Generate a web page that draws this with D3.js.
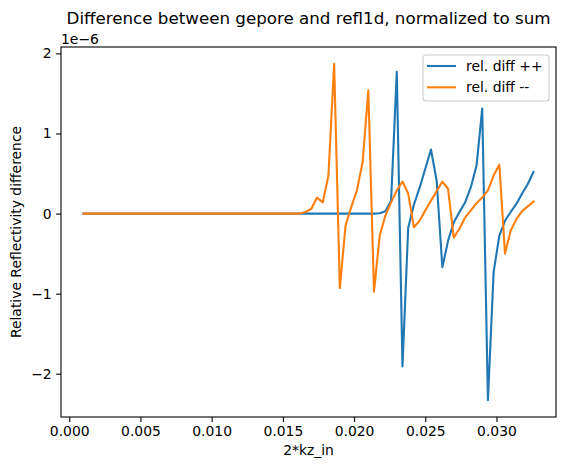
<!DOCTYPE html>
<html>
<head>
<meta charset="utf-8">
<script src="https://cdn.jsdelivr.net/npm/d3@7"></script>
<style>
  body { margin: 0; background: #fff; }
  svg text { font-family: "DejaVu Sans", sans-serif; fill: #000; }
</style>
</head>
<body>
<svg id="chart" width="565" height="470"></svg>
<script>
// kz waarden (2*kz_in)
var kz = [0.0010, 0.0014, 0.0018, 0.0022, 0.0026, 0.0030, 0.0034, 0.0038, 0.0042, 0.0046,
          0.0050, 0.0054, 0.0058, 0.0062, 0.0066, 0.0070, 0.0074, 0.0078, 0.0082, 0.0086,
          0.0090, 0.0094, 0.0098, 0.0102, 0.0106, 0.0110, 0.0114, 0.0118, 0.0122, 0.0126,
          0.0130, 0.0134, 0.0138, 0.0142, 0.0146, 0.0150, 0.0154, 0.0158, 0.0162, 0.0166,
          0.0170, 0.0174, 0.0178, 0.0182, 0.0186, 0.0190, 0.0194, 0.0198, 0.0202, 0.0206,
          0.0210, 0.0214, 0.0218, 0.0222, 0.0226, 0.0230, 0.0234, 0.0238, 0.0242, 0.0246,
          0.0250, 0.0254, 0.0258, 0.0262, 0.0266, 0.0270, 0.0274, 0.0278, 0.0282, 0.0286,
          0.0290, 0.0294, 0.0298, 0.0302, 0.0306, 0.0310, 0.0314, 0.0318, 0.0322, 0.0326];

// relatief verschil, in eenheden van 1e-6
var diffPP = [0, 0, 0, 0, 0, 0, 0, 0, 0, 0,
              0, 0, 0, 0, 0, 0, 0, 0, 0, 0,
              0, 0, 0, 0, 0, 0, 0, 0, 0, 0,
              0, 0, 0, 0, 0, 0, 0, 0, 0, 0,
              0, 0, 0, 0, 0, 0, 0, 0, 0, 0,
              0, 0, 0.005, 0.03, 0.16, 1.77, -1.91, -0.18, 0.11, 0.32,
              0.56, 0.80, 0.41, -0.67, -0.34, -0.11, 0.02, 0.14, 0.33, 0.60,
              1.31, -2.33, -0.73, -0.275, -0.09, 0.02, 0.12, 0.25, 0.37, 0.52];

var diffMM = [0, 0, 0, 0, 0, 0, 0, 0, 0, 0,
              0, 0, 0, 0, 0, 0, 0, 0, 0, 0,
              0, 0, 0, 0, 0, 0, 0, 0, 0, 0,
              0, 0, 0, 0, 0, 0, 0, 0, 0, 0.02,
              0.06, 0.20, 0.14, 0.475, 1.87, -0.93, -0.15, 0.08, 0.29, 0.64,
              1.54, -0.975, -0.275, -0.025, 0.14, 0.29, 0.40, 0.25, -0.17, -0.09,
              0.04, 0.16, 0.28, 0.40, 0.31, -0.30, -0.19, -0.05, 0.04, 0.13,
              0.20, 0.29, 0.475, 0.61, -0.50, -0.21, -0.07, 0.03, 0.09, 0.15];

var xTicks = [0.000, 0.005, 0.010, 0.015, 0.020, 0.025, 0.030];
var yTicks = [-2, -1, 0, 1, 2];
var seriesNames = ["rel. diff ++", "rel. diff --"];
var colors = ["#1f77b4", "#ff7f0e"];

var svg = d3.select("#chart"),
    margin = { top: 47, right: 9, bottom: 53, left: 61 },
    width = +svg.attr("width") - margin.left - margin.right,
    height = +svg.attr("height") - margin.top - margin.bottom;

// schalen met 5% marge zoals matplotlib
var xExt = d3.extent(kz),
    xPad = (xExt[1] - xExt[0]) * 0.05;
var allY = diffPP.concat(diffMM),
    yExt = d3.extent(allY),
    yPad = (yExt[1] - yExt[0]) * 0.05;

var x = d3.scaleLinear().domain([xExt[0] - xPad, xExt[1] + xPad]).range([0, width]);
var y = d3.scaleLinear().domain([yExt[0] - yPad, yExt[1] + yPad]).range([height, 0]);

var g = svg.append("g")
    .attr("transform", "translate(" + margin.left + "," + margin.top + ")");

// lijnen
var line = d3.line()
    .x(function(d, i) { return x(kz[i]); })
    .y(function(d) { return y(d); });

[diffPP, diffMM].forEach(function(s, k) {
  g.append("path")
    .datum(s)
    .attr("fill", "none")
    .attr("stroke", colors[k])
    .attr("stroke-width", 2.1)
    .attr("stroke-linejoin", "round")
    .attr("stroke-linecap", "square")
    .attr("d", line);
});

// assen
var xAxis = g.append("g")
    .attr("transform", "translate(0," + height + ")")
    .call(d3.axisBottom(x).tickValues(xTicks).tickFormat(d3.format(".3f"))
      .tickSizeInner(4.9).tickSizeOuter(0).tickPadding(4.5));

var yAxis = g.append("g")
    .call(d3.axisLeft(y).tickValues(yTicks).tickFormat(d3.format("d"))
      .tickSizeInner(4.9).tickSizeOuter(0).tickPadding(4.5));

[xAxis, yAxis].forEach(function(a) {
  a.select(".domain").remove();
  a.selectAll("line").attr("stroke", "#000").attr("stroke-width", 1.1);
  a.selectAll("text").style("font-size", "13.9px").attr("fill", "#000");
});

// kader
g.append("rect")
    .attr("width", width)
    .attr("height", height)
    .attr("fill", "none")
    .attr("stroke", "#000")
    .attr("stroke-width", 1.1);

// titels en labels
svg.append("text")
    .attr("x", margin.left + width / 2)
    .attr("y", 24)
    .attr("text-anchor", "middle")
    .style("font-size", "16.7px")
    .text("Difference between gepore and refl1d, normalized to sum");

svg.append("text")
    .attr("x", margin.left)
    .attr("y", 43.5)
    .style("font-size", "13.9px")
    .text("1e\u22126");

svg.append("text")
    .attr("x", margin.left + width / 2)
    .attr("y", 455)
    .attr("text-anchor", "middle")
    .style("font-size", "13.9px")
    .text("2*kz_in");

svg.append("text")
    .attr("transform", "translate(21," + (margin.top + height / 2) + ") rotate(-90)")
    .attr("text-anchor", "middle")
    .style("font-size", "13.9px")
    .text("Relative Reflectivity difference");

// legenda
var legend = g.append("g")
    .attr("transform", "translate(" + (width - 133) + ",8)");

legend.append("rect")
    .attr("width", 126)
    .attr("height", 46)
    .attr("rx", 3)
    .attr("fill", "#fff")
    .attr("fill-opacity", 0.8)
    .attr("stroke", "#cccccc")
    .attr("stroke-width", 1.1);

seriesNames.forEach(function(name, k) {
  var ly = 11 + k * 21.3;
  legend.append("line")
    .attr("x1", 4).attr("x2", 33)
    .attr("y1", ly).attr("y2", ly)
    .attr("stroke", colors[k])
    .attr("stroke-width", 2.1);
  legend.append("text")
    .attr("x", 43)
    .attr("y", ly + 5)
    .style("font-size", "13.9px")
    .text(name);
});
</script>
</body>
</html>
